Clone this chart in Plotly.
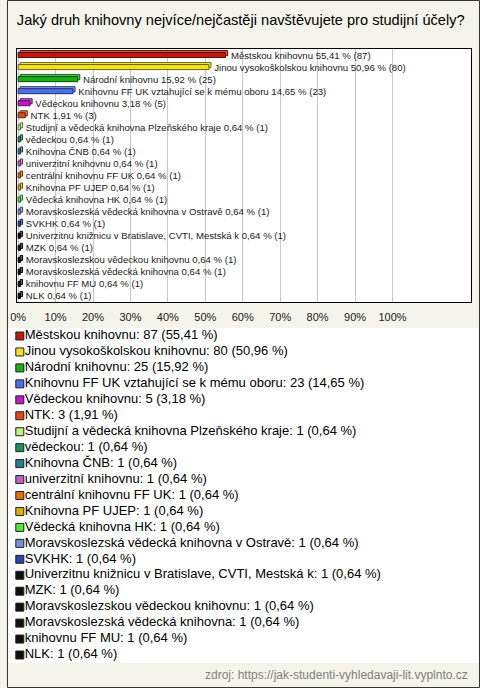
import plotly.graph_objects as go

W, H = 480, 688

categories = [
    "Městskou knihovnu",
    "Jinou vysokoškolskou knihovnu",
    "Národní knihovnu",
    "Knihovnu FF UK vztahující se k mému oboru",
    "Vědeckou knihovnu",
    "NTK",
    "Studijní a vědecká knihovna Plzeňského kraje",
    "vědeckou",
    "Knihovna ČNB",
    "univerzitní knihovnu",
    "centrální knihovnu FF UK",
    "Knihovna PF UJEP",
    "Vědecká knihovna HK",
    "Moravskoslezská vědecká knihovna v Ostravě",
    "SVKHK",
    "Univerzitnu knižnicu v Bratislave, CVTI, Mestská k",
    "MZK",
    "Moravskoslezskou vědeckou knihovnu",
    "Moravskoslezská vědecká knihovna",
    "knihovnu FF MU",
    "NLK",
]
counts = [87, 80, 25, 23, 5, 3, 1, 1, 1, 1, 1, 1, 1, 1, 1, 1, 1, 1, 1, 1, 1]
percents = [55.41, 50.96, 15.92, 14.65, 3.18, 1.91, 0.64, 0.64, 0.64, 0.64, 0.64,
            0.64, 0.64, 0.64, 0.64, 0.64, 0.64, 0.64, 0.64, 0.64, 0.64]
colors = [
    "#c0180c", "#f2e21a", "#18b018", "#4a70e8", "#c018c8", "#e04818",
    "#c0f080", "#189060", "#207f8f", "#c060c0", "#e07000", "#e0b000",
    "#50e838", "#7090e0", "#2848a8",
    "#101010", "#101010", "#101010", "#101010", "#101010", "#101010",
]

xticks = [0, 10, 20, 30, 40, 50, 60, 70, 80, 90, 100]
xtick_labels = [f"{v}%" for v in xticks]

N = len(categories)


def fmt(p):
    return f"{p:.2f}".replace(".", ",")


bar_text = ["\u00a0\u00a0" + f"{c} {fmt(p)} % ({n})" for c, p, n in zip(categories, percents, counts)]
legend_text = [f"{c}: {n} ({fmt(p)} %)" for c, p, n in zip(categories, percents, counts)]


def shade(hexc, f):
    h = hexc.lstrip("#")
    r, g, b = (int(h[i:i + 2], 16) for i in (0, 2, 4))
    if f < 1:
        return f"rgb({int(r * f)},{int(g * f)},{int(b * f)})"
    t = f - 1
    return f"rgb({int(r + (255 - r) * t)},{int(g + (255 - g) * t)},{int(b + (255 - b) * t)})"


idx = list(range(N))
BW = 0.42

fig = go.Figure()
# 3D depth face (behind), shifted up/right
fig.add_trace(go.Bar(
    x=percents, y=idx, orientation="h", base=0.55,
    width=BW, offset=-BW / 2 - 0.16,
    marker=dict(color=[shade(c, 1.35) for c in colors],
                line=dict(color=[shade(c, 0.45) for c in colors], width=1)),
    showlegend=False, hoverinfo="skip",
))
fig.add_trace(go.Bar(
    x=percents, y=idx, orientation="h",
    width=BW, offset=-BW / 2,
    marker=dict(color=colors, line=dict(color=[shade(c, 0.45) for c in colors], width=1)),
    text=bar_text, textposition="outside", constraintext="none",
    textfont=dict(family="Liberation Sans, Arial", size=9.6, color="#1a1a1a"),
    cliponaxis=False, showlegend=False, hoverinfo="skip",
))

# legend drawn as marker + text series on their own axes (x axis in pixels)
fig.add_trace(go.Scatter(
    x=[13] * N, y=idx, mode="markers",
    marker=dict(symbol="square", size=8, color=colors, line=dict(color="#202020", width=1)),
    xaxis="x2", yaxis="y2", showlegend=False, hoverinfo="skip", cliponaxis=False,
))
fig.add_trace(go.Scatter(
    x=[18] * N, y=idx, mode="text",
    text=legend_text, textposition="middle right",
    textfont=dict(family="Liberation Sans, Arial", size=13, color="#000000"),
    xaxis="x2", yaxis="y2", showlegend=False, hoverinfo="skip", cliponaxis=False,
))

step = (655 - 336) / (N - 1)
rows_top = 336 - step / 2
rows_bot = 655 + step / 2

fig.update_layout(
    width=W, height=H,
    margin=dict(l=0, r=0, t=0, b=0),
    paper_bgcolor="#f4f4ec",
    plot_bgcolor="#ffffff",
    font=dict(family="Liberation Sans, Arial", color="#000"),
    barmode="overlay",
    title=dict(
        text="Jaký druh knihovny nejvíce/nejčastěji navštěvujete pro studijní účely?",
        x=10 / W, xanchor="left", xref="paper",
        y=1 - 20 / H, yanchor="middle", yref="container",
        font=dict(family="Liberation Sans, Arial", size=14.6, color="#000"),
    ),
    xaxis=dict(
        domain=[10 / W, 471 / W], range=[-0.34, 121.0],
        tickvals=xticks, ticktext=xtick_labels,
        tickfont=dict(size=11, color="#222"),
        showgrid=True, gridcolor="#c8c8c8", gridwidth=1, zeroline=False,
        showline=True, linecolor="#000", linewidth=1, mirror=True,
        ticks="", ticklabelstandoff=5, fixedrange=True,
    ),
    yaxis=dict(
        domain=[(H - 302) / H, (H - 49) / H], range=[N - 0.5, -0.5],
        showticklabels=False, showgrid=False, zeroline=False,
        showline=True, linecolor="#000", linewidth=1, mirror=True, fixedrange=True,
    ),
    xaxis2=dict(domain=[0, 1], range=[0, W], visible=False, anchor="y2", fixedrange=True),
    yaxis2=dict(domain=[(H - rows_bot) / H, (H - rows_top) / H],
                range=[N - 0.5, -0.5], visible=False, anchor="x2", fixedrange=True),
    annotations=[dict(
        text="zdroj: https://jak-studenti-vyhledavaji-lit.vyplnto.cz",
        xref="paper", yref="paper", x=470 / W, y=13 / H, xanchor="right", yanchor="middle",
        showarrow=False, font=dict(family="Liberation Sans, Arial", size=12, color="#808080"),
    )],
    shapes=[dict(type="rect", xref="paper", yref="paper",
                 x0=0.5 / W, x1=1 - 0.5 / W, y0=0.5 / H, y1=1 - 0.5 / H,
                 line=dict(color="#333", width=1), layer="above")],
)

fig.write_html("out.html", config={"displayModeBar": False},
               post_script="document.body.style.margin='0';")
